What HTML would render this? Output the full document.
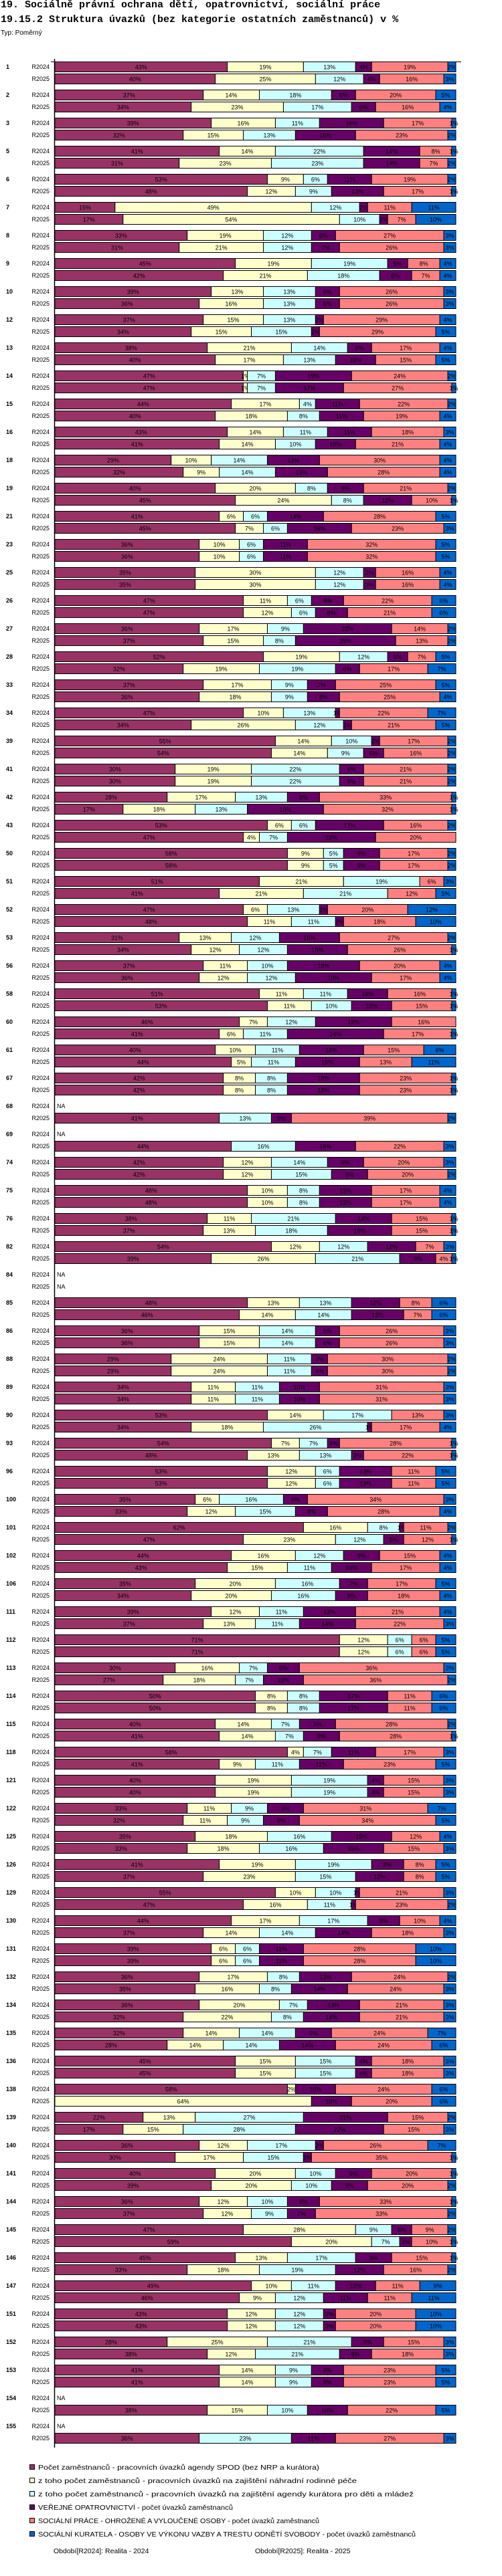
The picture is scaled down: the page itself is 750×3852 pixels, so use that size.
<!DOCTYPE html>
<html><head><meta charset="utf-8">
<style>
body{margin:0;background:#fff;width:750px;height:3852px;overflow:hidden;font-family:"Liberation Sans",sans-serif}
.t{position:absolute;left:1px;font-family:"Liberation Mono",monospace;font-weight:bold;font-size:15px;white-space:nowrap;color:#000}
</style></head><body>
<div class="t" style="top:-1px">19. Sociálně právní ochrana dětí, opatrovnictví, sociální práce</div>
<div class="t" style="top:21px">19.15.2 Struktura úvazků (bez kategorie ostatních zaměstnanců) v %</div>
<div style="position:absolute;left:1px;top:44px;font-size:10px">Typ: Poměrný</div>
<svg id="chart" width="750" height="3852" style="position:absolute;left:0;top:0"></svg>
<script>
const groups=[1,2,3,5,6,7,8,9,10,12,13,14,15,16,18,19,21,23,25,26,27,28,33,34,39,41,42,43,50,51,52,53,56,58,60,61,67,68,69,74,75,76,82,84,85,86,88,89,90,93,96,100,101,102,106,111,112,113,114,115,118,121,122,125,126,129,130,131,132,134,135,136,138,139,140,141,144,145,146,147,151,152,153,154,155];
const periods=["R2024","R2025"];
const r2024=[
[43,19,13,4,19,2],[37,14,18,6,20,5],[39,16,11,16,17,1],[41,14,22,14,8,1],[53,9,6,11,19,2],[15,49,12,2,11,11],[33,19,12,6,27,3],[45,19,19,5,8,4],[39,13,13,6,26,3],[37,15,13,2,29,4],
[38,21,14,6,17,4],[47,1,7,19,24,2],[44,17,4,11,22,2],[43,14,11,11,18,3],[29,10,14,13,30,4],[40,20,8,9,21,2],[41,6,6,14,28,5],[36,10,6,11,32,5],[35,30,12,3,16,4],[47,11,6,8,22,6],
[36,17,9,22,14,2],[52,19,12,5,7,5],[37,17,9,7,25,5],[47,10,13,1,22,7],[55,14,10,2,17,2],[30,19,22,6,21,2],[28,17,13,8,33,1],[53,6,6,17,16,2],[58,9,5,9,17,2],[51,21,19,0,6,3],
[47,6,13,2,20,12],[31,13,12,15,27,2],[37,11,10,18,20,4],[51,11,11,10,16,1],[46,7,12,19,16,0],[40,10,11,16,15,8],[42,8,8,18,23,1],null,null,[42,12,14,9,20,3],
[48,10,8,13,17,4],[38,11,21,14,15,1],[54,12,12,12,7,3],null,[48,13,13,12,8,6],[36,15,14,6,26,3],[29,24,11,4,30,2],[34,11,11,10,31,3],[53,14,17,0,13,3],[54,7,7,3,28,1],
[53,12,6,13,11,5],[35,6,16,6,34,3],[62,16,8,1,11,2],[44,16,12,9,15,4],[35,20,16,7,17,5],[39,12,11,13,21,4],[71,12,6,0,6,5],[30,16,7,8,36,3],[50,8,8,17,11,6],[40,14,7,9,28,2],
[58,4,7,11,17,3],[40,19,19,4,15,3],[33,11,9,9,31,7],[35,18,16,15,12,4],[41,19,19,8,8,5],[55,10,10,1,21,3],[44,17,17,8,10,4],[39,6,6,11,28,10],[36,17,8,13,24,2],[36,20,7,13,21,3],
[32,14,14,9,24,7],[45,15,15,4,18,3],[58,2,0,10,24,6],[22,13,27,21,15,2],[36,12,17,2,26,7],[40,20,10,9,20,1],[36,12,10,8,33,1],[47,28,9,5,9,2],[45,13,17,9,15,1],[49,10,11,10,11,9],
[43,12,12,3,20,10],[28,25,21,8,15,3],[41,14,9,8,23,5],null,null];
const r2025=[
[40,25,12,4,16,3],[34,23,17,6,16,4],[32,15,13,15,23,2],[31,23,23,14,7,2],[48,12,9,13,17,1],[17,54,10,2,7,10],[31,21,12,7,26,3],[42,21,18,8,7,4],[36,16,13,6,26,3],[34,15,15,2,29,5],
[40,17,13,10,15,5],[47,1,7,17,27,1],[40,18,8,11,19,4],[41,14,10,10,21,4],[32,9,14,13,28,4],[45,24,8,12,10,1],[45,7,6,16,23,3],[36,10,6,11,32,5],[35,30,12,3,16,4],[47,12,6,8,21,6],
[37,15,8,25,13,2],[32,19,19,6,17,7],[36,18,9,8,25,4],[34,26,12,2,21,5],[54,14,9,5,16,2],[30,19,22,6,21,2],[17,18,13,19,32,1],[47,4,7,22,20,0],[58,9,5,9,17,2],[41,21,21,0,12,5],
[48,11,11,2,18,10],[34,12,12,15,26,1],[36,12,12,19,17,4],[53,11,10,10,15,1],[41,6,11,24,17,1],[44,5,11,16,13,11],[42,8,8,18,23,1],[41,0,13,5,39,2],[44,0,16,15,22,3],[42,12,15,9,20,2],
[48,10,8,13,17,4],[37,13,18,16,15,1],[39,26,21,9,4,1],null,[46,14,14,13,7,6],[36,15,14,6,26,3],[29,24,11,4,30,2],[34,11,11,10,31,3],[34,18,26,1,17,4],[48,13,13,3,22,1],
[53,12,6,13,11,5],[33,12,15,8,28,4],[47,23,12,5,12,1],[43,15,11,10,17,4],[34,20,16,8,18,4],[37,13,11,14,22,3],[71,12,6,0,6,5],[27,18,7,10,36,2],[50,8,8,17,11,6],[41,14,7,9,28,1],
[41,9,11,11,23,5],[40,19,19,4,15,3],[32,11,9,9,34,5],[33,18,16,15,15,3],[37,23,15,12,8,5],[47,16,11,1,23,2],[37,14,14,14,18,3],[39,6,6,11,28,10],[35,16,8,14,24,3],[32,22,8,14,21,3],
[28,14,14,14,24,6],[45,15,15,4,18,3],[0,64,0,10,20,6],[17,15,28,22,15,3],[30,17,15,2,35,1],[39,20,10,9,20,2],[37,12,9,7,33,2],[59,20,7,3,10,1],[33,18,19,12,16,2],[46,9,12,11,11,11],
[43,12,12,3,20,10],[38,12,21,8,18,3],[41,14,9,8,23,5],[38,15,10,10,22,5],[36,0,23,11,27,3]];
const seriesNames=["Počet zaměstnanců - pracovních úvazků agendy SPOD (bez NRP a kurátora)","z toho počet zaměstnanců - pracovních úvazků na zajištění náhradní rodinné péče","z toho počet zaměstnanců - pracovních úvazků na zajištění agendy kurátora pro děti a mládež","VEŘEJNÉ OPATROVNICTVÍ - počet úvazků zaměstnanců","SOCIÁLNÍ PRÁCE - OHROŽENÉ A VYLOUČENÉ OSOBY - počet úvazků zaměstnanců","SOCIÁLNÍ KURATELA - OSOBY VE VÝKONU VAZBY A TRESTU ODNĚTÍ SVOBODY - počet úvazků zaměstnanců"];
const legendWidths=[420,476,561,291,420,564];
const colors=["#993366","#FFFFCC","#CCFFFF","#660066","#FF8080","#0066CC"];

const NS="http://www.w3.org/2000/svg";
const svg=document.getElementById('chart');
const X0=82,XW=599,Y0=92,PITCH=42,BH=15;
function xs(frac){return X0+frac*XW;}
function ys(gi,pi){return Y0+gi*PITCH+pi*18;}
function mk(tag,attrs){const e=document.createElementNS(NS,tag);for(const k in attrs)e.setAttribute(k,attrs[k]);svg.appendChild(e);return e;}
function txt(x,y,s,size,anchor,weight){const t=mk('text',{x:x,y:y,'font-size':size,'text-anchor':anchor||'start','font-family':'Liberation Sans, sans-serif'});if(weight)t.setAttribute('font-weight',weight);t.textContent=s;return t;}

const ax=mk('line',{x1:81.5,y1:88,x2:81.5,y2:Y0+groups.length*PITCH-2,stroke:'#000','stroke-width':1.5});


const tl=mk('line',{x1:76,y1:92.5,x2:689,y2:92.5,stroke:'#000','stroke-width':1});



groups.forEach((g,gi)=>{
  const gl=txt(9,ys(gi,0)+11,String(g),9,'start','bold');
  
  
  [r2024[gi],r2025[gi]].forEach((vals,pi)=>{
    const y=ys(gi,pi);
    const pl=txt(74,y+11,periods[pi],9,'end');
    
    
    if(!vals){
      const na=txt(85,y+11,'NA',9);
      
      
      return;
    }
    const sum=vals.reduce((a,b)=>a+b,0);
    let acc=0;
    vals.forEach((v,si)=>{
      if(v<=0)return;
      const x1=xs(acc/sum),x2=xs((acc+v)/sum);acc+=v;
      const r=mk('rect',{x:x1,y:y+0.5,width:x2-x1,height:BH,fill:colors[si],stroke:'#000','stroke-width':1});
      
      
      const l=txt((x1+x2)/2,y+11.5,v+'%',9,'middle');
      
      
    });
  });
});

seriesNames.forEach((n,i)=>{
  const y=3686+i*20;
  const s=mk('rect',{x:44.5,y:y-0.5,width:7,height:7,fill:colors[i],stroke:'#000','stroke-width':1});
  
  
  const t=txt(57,y+7,n,10.5);
  t.setAttribute('textLength',legendWidths[i]);
  t.setAttribute('lengthAdjust','spacingAndGlyphs');
  
  
});
const p1=txt(80,3818,'Období[R2024]: Realita - 2024',10.5);


const p2=txt(381,3818,'Období[R2025]: Realita - 2025',10.5);


</script>
</body></html>
